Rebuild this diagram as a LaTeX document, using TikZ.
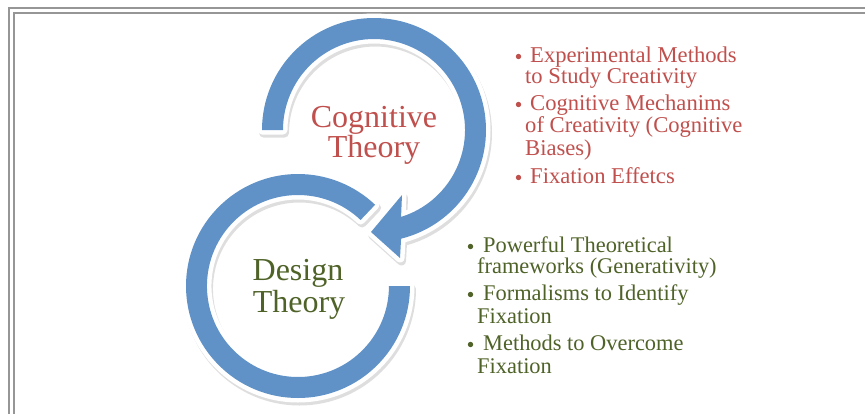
\documentclass[tikz,border=0pt]{standalone}
\usepackage{fontspec}
\setmainfont{Liberation Serif}
\definecolor{ringblue}{RGB}{96,146,200}
\definecolor{redc}{RGB}{192,80,77}
\definecolor{greenc}{RGB}{79,98,40}
\definecolor{framegray}{RGB}{150,150,150}
\tikzset{
  toparc/.style={insert path={(262,-130) arc[start angle=180, end angle=-76, radius=112pt]
     -- (400,-258) -- (371,-232) -- (402,-195) -- (401.06,-216.9)
     arc[start angle=-72.7, end angle=180, radius=91pt] -- cycle}},
  botarc/.style={insert path={(410,-286) arc[start angle=0, end angle=-313.5, radius=112pt]
     -- (360.6,-220.0) arc[start angle=46.5, end angle=360, radius=91pt] -- cycle}},
  halo/.style={draw=white, fill=white, line width=9pt, line join=round},
  shadowpath/.style={draw=black, fill=black, line width=9pt, line join=round},
  body/.style={fill=ringblue},
  framel/.style={draw=framegray, line width=2pt},
  titlered/.style={anchor=base, inner sep=0pt, text=redc, font=\fontsize{32}{34}\selectfont},
  titlegreen/.style={anchor=base, inner sep=0pt, text=greenc, font=\fontsize{32}{34}\selectfont},
  redline/.style={anchor=base west, inner sep=0pt, text=redc, font=\fontsize{22.6}{24}\selectfont},
  greenline/.style={anchor=base west, inner sep=0pt, text=greenc, font=\fontsize{22.4}{24}\selectfont},
  redbullet/.style={circle, fill=redc, inner sep=0pt, minimum size=5.4pt},
  greenbullet/.style={circle, fill=greenc, inner sep=0pt, minimum size=5.4pt},
}
\begin{document}
\begin{tikzpicture}[x=1pt,y=1pt]
\useasboundingbox (0,0) rectangle (865,-413);
\fill[white] (0,0) rectangle (865,-413);
% frame
\draw[framel] (9,-420) -- (9,-8) -- (870,-8);
\draw[framel] (14,-420) -- (14,-13) -- (870,-13);
% bottom ring
\begin{scope}[transparency group, opacity=0.13]
  \path[shadowpath, shift={(1.5,-3)}, botarc];
\end{scope}
\path[halo, botarc];
\path[body, botarc];
% top arrow
\begin{scope}[transparency group, opacity=0.13]
  \path[shadowpath, shift={(1.5,-3)}, toparc];
\end{scope}
\path[halo, toparc];
\path[body, toparc];
% titles
\node[titlered] (cog1) at (374,-127) {Cognitive};
\node[titlered] (cog2) at (374,-157) {Theory};
\node[titlegreen] (des1) at (298,-280) {Design};
\node[titlegreen] (des2) at (299,-312) {Theory};
% red list
\node[redbullet] (rb1) at (518.5,-56.5) {};
\node[redline] (r1a) at (530,-62) {Experimental Methods};
\node[redline] (r1b) at (525,-83) {to Study Creativity};
\node[redbullet] (rb2) at (518.5,-104.5) {};
\node[redline] (r2a) at (530,-110) {Cognitive Mechanims};
\node[redline] (r2b) at (525,-132) {of Creativity (Cognitive};
\node[redline] (r2c) at (525,-155) {Biases)};
\node[redbullet] (rb3) at (518.5,-177.5) {};
\node[redline] (r3a) at (530,-183) {Fixation Effetcs};
% green list
\node[greenbullet] (gb1) at (470.5,-246.5) {};
\node[greenline] (g1a) at (483,-252) {Powerful Theoretical};
\node[greenline] (g1b) at (477,-273) {frameworks (Generativity)};
\node[greenbullet] (gb2) at (470.5,-294.5) {};
\node[greenline] (g2a) at (483,-300) {Formalisms to Identify};
\node[greenline] (g2b) at (477,-323) {Fixation};
\node[greenbullet] (gb3) at (470.5,-344.5) {};
\node[greenline] (g3a) at (483,-350) {Methods to Overcome};
\node[greenline] (g3b) at (477,-373) {Fixation};
\end{tikzpicture}
\end{document}
